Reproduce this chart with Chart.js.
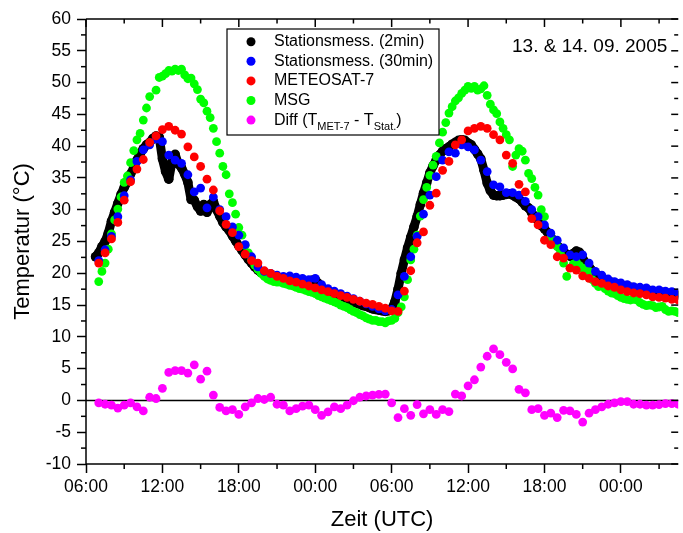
<!DOCTYPE html>
<html>
<head>
<meta charset="utf-8">
<script src="https://cdn.jsdelivr.net/npm/chart.js@4.4.1/dist/chart.umd.min.js"></script>
<style>
  html, body { margin: 0; padding: 0; background: #fff; }
  #wrap { width: 683px; height: 533px; }
</style>
</head>
<body>
<div id="wrap"><canvas id="myChart" width="683" height="533"></canvas></div>
<script>
// time axis is in hours counted from 13.09.2005 00:00 UTC
const xMajorTicks = [6, 12, 18, 24, 30, 36, 42, 48];
const xTickLabels = ['06:00', '12:00', '18:00', '00:00', '06:00', '12:00', '18:00', '00:00'];
const xMinorTicks = [9, 15, 21, 27, 33, 39, 45, 51];
const yMinorTicks = [-7.5, -2.5, 2.5, 7.5, 12.5, 17.5, 22.5, 27.5, 32.5, 37.5, 42.5, 47.5, 52.5, 57.5];

// station 2 min (shown every 15 min), starts 06:45
const station2Start = 6.75;
const station2 = [
    22.6, 23.2, 24.2, 25.0, 26.3, 28.2, 29.6, 31.0,
    32.4, 33.5, 34.4, 35.6, 36.6, 37.8, 38.8, 39.6,
    40.2, 40.6, 41.2, 41.6, 41.4, 38.0, 36.0, 34.8,
    37.5, 38.7, 37.2, 36.6, 35.6, 34.3, 31.6, 31.5,
    30.5, 29.8, 30.8, 29.6, 30.8, 31.3, 30.0, 29.0,
    28.0, 27.3, 26.7, 25.9, 25.1, 24.3, 23.6, 22.9,
    22.2, 21.6, 21.0, 20.5, 20.1, 19.8, 19.6, 19.4,
    19.3, 19.3, 19.2, 19.2, 19.1, 19.1, 19.0, 18.9,
    18.8, 18.7, 18.5, 18.5, 18.9, 19.0, 18.4, 17.8,
    17.4, 17.2, 16.9, 16.7, 16.5, 16.3, 16.1, 15.9,
    15.7, 15.5, 15.3, 15.1, 14.9, 14.8, 14.6, 14.4,
    14.3, 14.2, 14.1, 14.0, 14.1, 14.4, 15.5, 17.5,
    20.0, 22.1, 24.0, 25.7, 27.3, 28.9, 30.8, 32.6,
    34.2, 35.8, 36.9, 37.8, 38.6, 39.2, 39.6, 39.9,
    40.3, 40.6, 40.9, 41.0, 40.9, 40.5, 40.2, 39.5,
    38.8, 38.0, 36.2, 34.2, 33.0, 32.3, 32.2, 32.2,
    32.3, 32.4, 32.5, 32.3, 32.0, 31.7, 31.2, 30.6,
    30.3, 29.5, 28.9, 28.2, 27.5, 27.0, 26.4, 25.7,
    25.1, 24.4, 23.9, 23.4, 23.0, 22.7, 23.1, 23.5,
    23.3, 22.3, 21.6, 21.0, 20.4, 20.0, 19.6, 19.3,
    19.0, 18.8, 18.6, 18.4, 18.3, 18.2, 18.0, 17.9,
    17.8, 17.7, 17.6, 17.5, 17.4, 17.4, 17.3, 17.2,
    17.1, 17.0, 17.0, 16.9, 16.8, 16.8, 16.7, 16.6
];

// half-hourly series, start 07:00
const halfHourStart = 7.0;
const station30 = [
    22.0, 23.7, 25.8, 28.9, 32.2, 34.7, 37.6, 39.4, 40.2, 41.1,
    40.7, 38.6, 37.8, 37.3, 35.5, 32.8, 33.4, 30.3, 32.0, 30.0,
    28.9, 27.3, 26.0, 24.5, 22.6, 21.0, 20.3, 20.0, 19.7, 19.5,
    19.6, 19.4, 19.2, 19.0, 19.2, 18.2, 17.6, 17.2, 16.8, 16.4,
    16.0, 15.6, 15.2, 14.8, 14.4, 14.1, 14.3, 16.6, 19.5, 22.6,
    25.8, 29.3, 32.3, 35.2, 37.8, 39.1, 38.9, 40.2, 39.9, 39.4,
    37.8, 36.0, 33.9, 33.6, 32.7, 32.7, 32.3, 31.3, 30.0, 28.9,
    27.6, 26.3, 25.2, 24.0, 22.9, 22.6, 22.9, 21.6, 20.3, 19.7,
    19.1, 18.7, 18.5, 18.2, 17.9, 17.8, 17.7, 17.4, 17.4, 17.2,
    17.1, 16.9
];
const meteosat7 = [
    21.6, 23.2, 25.4, 28.0, 31.5, 34.4, 36.4, 37.9, 40.6, 41.6,
    42.6, 43.1, 42.5, 41.9, 39.9, 38.3, 36.8, 34.8, 33.1, 29.8,
    27.7, 26.4, 24.2, 23.0, 22.0, 21.6, 20.4, 20.0, 19.5, 19.2,
    18.8, 18.6, 18.3, 18.0, 17.7, 17.4, 17.1, 16.8, 16.5, 16.2,
    15.9, 15.6, 15.3, 15.1, 14.8, 14.5, 14.1, 14.0, 17.2, 20.4,
    24.8, 26.5, 30.7, 32.6, 36.2, 37.6, 40.2, 41.0, 42.4, 42.8,
    43.1, 42.8, 41.8, 41.0, 38.6, 37.3, 34.0, 32.8, 28.6, 27.6,
    25.2, 24.5, 22.6, 22.4, 20.8, 20.5, 19.6, 19.2, 18.7, 18.4,
    18.0, 17.8, 17.4, 17.1, 16.9, 16.8, 16.6, 16.3, 16.2, 16.1,
    15.9, 15.8
];
const diffMet7 = [
    -0.37, -0.6, -0.75, -1.2, -0.75, -0.37, -1.0, -1.65, 0.5, 0.3,
    1.9, 4.4, 4.7, 4.7, 4.3, 5.6, 3.35, 4.6, 0.85, -1.1,
    -1.65, -1.45, -2.2, -1.0, -0.37, 0.3, 0.15, 0.5, -0.6, -0.75,
    -1.65, -1.3, -0.9, -0.75, -1.45, -2.35, -1.8, -1.0, -1.3, -0.75,
    -0.05, 0.5, 0.7, 0.85, 0.95, 1.0, -0.37, -2.7, -1.3, -2.35,
    -0.65, -2.1, -1.45, -2.2, -1.45, -1.75, 1.0, 0.7, 2.3, 3.25,
    5.25, 6.95, 8.1, 7.2, 6.0, 4.95, 1.75, 1.2, -1.45, -1.3,
    -2.35, -2.0, -2.7, -1.55, -1.65, -2.2, -3.4, -2.0, -1.45, -1.0,
    -0.6, -0.37, -0.2, -0.2, -0.6, -0.6, -0.75, -0.75, -0.65, -0.5,
    -0.5, -0.6
];

// MSG, quarter-hourly, start 07:00 (null = no value)
const msgStart = 7.0;
const msg = [
    18.7, 20.3, 21.6, 23.8, 26.2, 28.4, 30.1, 32.0,
    34.3, 35.3, 37.4, 39.3, 41.0, 42.0, 44.1, 46.0,
    47.8, null, 48.8, 50.8, 51.0, 51.4, 51.9, 51.8,
    52.1, 51.9, 52.1, 51.2, 50.6, 50.7, 49.8, 48.9,
    47.4, 46.8, 45.5, 44.5, 42.8, 40.7, 38.9, 36.8,
    35.5, 32.5, 31.1, 29.3, 27.2, 26.0, 24.4, 23.2,
    22.1, 21.3, 20.6, 20.0, 19.5, 19.1, 18.9, 18.7,
    18.6, 18.6, 18.4, 18.3, 18.1, 18.0, 17.8, 17.6,
    17.5, 17.3, 17.1, 17.0, 16.8, 16.5, 16.3, 16.1,
    15.9, 15.7, 15.5, 15.3, 15.0, 14.8, 14.6, 14.3,
    14.0, 13.8, 13.5, 13.3, 13.0, 12.8, 12.6, 12.6,
    12.4, 12.4, 12.2, 12.5, 12.6, 12.9, 13.8, 14.7,
    16.3, 19.0, 22.1, 23.8, 26.0, 29.0, 31.6, 33.5,
    35.4, 37.0, 38.4, 40.5, 42.2, 43.7, 45.2, 46.2,
    47.1, 47.6, 48.3, 48.8, 49.4, 49.1, 49.4, 48.8,
    49.0, 49.5, 48.0, 46.6, 45.7, 45.1, 43.8, 42.8,
    41.8, 41.0, 36.8, 38.6, 39.6, 39.2, 37.8, 35.7,
    34.9, 33.5, 32.3, 30.0, 28.9, null, 25.5, 24.8,
    24.2, 23.1, 21.6, 19.5, null, 21.4, 21.8, 21.2,
    20.8, 20.5, 20.3, 19.0, 18.4, 17.9, 18.2, 17.6,
    17.2, 16.9, 16.8, 16.5, 16.2, 16.0, 15.9, 15.8,
    15.9, 15.8, 15.4, 15.1, 14.9, 15.0, 14.9, 14.6,
    14.7, 14.8, 14.3, 14.0, 14.1, 14.0, 13.8
];

const FONT = '"Liberation Sans", Arial, sans-serif';
Chart.defaults.font.family = FONT;
Chart.defaults.color = '#000';

function toPoints(start, step, vals) {
    const pts = [];
    vals.forEach(function (v, i) {
        if (v !== null) pts.push({ x: start + i * step, y: v });
    });
    return pts;
}

function dotSet(label, data, color, order) {
    return {
        label: label,
        data: data,
        showLine: false,
        pointRadius: 4.4,
        pointBorderWidth: 0,
        pointBackgroundColor: color,
        backgroundColor: color,
        borderColor: color,
        order: order
    };
}

const stationLine = dotSet('Stationsmess. (2min)', toPoints(station2Start, 0.25, station2), '#000000', 4);
stationLine.showLine = true;
stationLine.borderWidth = 9;
stationLine.pointRadius = 4.8;
stationLine.borderJoinStyle = 'round';
stationLine.borderCapStyle = 'round';

const datasets = [
    stationLine,
    dotSet('Stationsmess. (30min)', toPoints(halfHourStart, 0.5, station30), '#0000ff', 2),
    dotSet('METEOSAT-7', toPoints(halfHourStart, 0.5, meteosat7), '#ff0000', 1),
    dotSet('MSG', toPoints(msgStart, 0.25, msg), '#00ff00', 3),
    dotSet('Diff (TMET-7 - TStat.)', toPoints(halfHourStart, 0.5, diffMet7), '#ff00ff', 0)
];
// legend text pieces, second value = subscript
const diffLegendParts = [['Diff (T', 0], ['MET-7', 1], [' - T', 0], ['Stat.', 1], [')', 0]];

function line(ctx, x1, y1, x2, y2) {
    ctx.beginPath();
    ctx.moveTo(x1, y1);
    ctx.lineTo(x2, y2);
    ctx.stroke();
}

const decor = {
    id: 'decor',
    beforeDatasetsDraw(chart) {
        const ctx = chart.ctx, a = chart.chartArea, ys = chart.scales.y;
        ctx.save();
        ctx.strokeStyle = '#000';
        ctx.lineWidth = 1.5;
        const y0 = ys.getPixelForValue(0);
        line(ctx, a.left, y0, a.right, y0);
        ctx.restore();
    },
    afterDatasetsDraw(chart) {
        const ctx = chart.ctx, a = chart.chartArea;
        const xs = chart.scales.x, ys = chart.scales.y;
        ctx.save();
        ctx.strokeStyle = '#000';
        ctx.lineWidth = 1.5;
        // frame
        line(ctx, a.left, a.top, a.right, a.top);
        line(ctx, a.left, a.top, a.left, a.bottom);
        line(ctx, a.left, a.bottom, a.right, a.bottom);
        // top + bottom ticks
        xMajorTicks.forEach(function (h) {
            const px = xs.getPixelForValue(h);
            line(ctx, px, a.top, px, a.top + 8);
        });
        xMinorTicks.forEach(function (h) {
            const px = xs.getPixelForValue(h);
            line(ctx, px, a.bottom, px, a.bottom + 5);
            line(ctx, px, a.top, px, a.top + 4.5);
        });
        // left minor + right ticks
        ys.ticks.forEach(function (t) {
            const py = ys.getPixelForValue(t.value);
            line(ctx, a.right - 7, py, a.right, py);
        });
        yMinorTicks.forEach(function (v) {
            const py = ys.getPixelForValue(v);
            line(ctx, a.left - 5, py, a.left, py);
            line(ctx, a.right - 4, py, a.right, py);
        });

        // legend box
        const bx = 227, by = 29, bw = 212, bh = 106;
        ctx.fillStyle = '#fff';
        ctx.fillRect(bx, by, bw, bh);
        ctx.lineWidth = 1.2;
        ctx.strokeRect(bx, by, bw, bh);
        ctx.textBaseline = 'middle';
        ctx.textAlign = 'left';
        chart.data.datasets.forEach(function (ds, i) {
            const ry = 41.7 + i * 19.6;
            ctx.fillStyle = ds.pointBackgroundColor;
            ctx.beginPath();
            ctx.arc(251, ry, 4.5, 0, Math.PI * 2);
            ctx.fill();
            ctx.fillStyle = '#000';
            if (i === 4) {
                let tx = 274;
                diffLegendParts.forEach(function (p) {
                    ctx.font = (p[1] ? '11px ' : '16px ') + FONT;
                    ctx.fillText(p[0], tx, p[1] ? ry + 7 : ry);
                    tx += ctx.measureText(p[0]).width;
                });
            } else {
                ctx.font = '16px ' + FONT;
                ctx.fillText(ds.label, 274, ry);
            }
        });

        // date note
        ctx.font = '19px ' + FONT;
        ctx.textBaseline = 'alphabetic';
        ctx.fillText('13. & 14. 09. 2005', 512, 51.5);
        ctx.restore();
    }
};

new Chart('myChart', {
    type: 'scatter',
    data: { datasets: datasets },
    options: {
        responsive: false,
        animation: false,
        devicePixelRatio: 1,
        events: [],
        layout: { padding: { top: 19, right: 0, left: 0, bottom: 0 } },
        plugins: {
            legend: { display: false },
            tooltip: { enabled: false }
        },
        scales: {
            x: {
                type: 'linear',
                position: 'bottom',
                min: 6,
                max: 52.5,
                afterBuildTicks: function (s) {
                    s.ticks = xMajorTicks.map(function (v) { return { value: v }; });
                },
                afterFit: function (s) { s.height = 69; },
                ticks: {
                    callback: function (v) { return xTickLabels[xMajorTicks.indexOf(v)]; },
                    font: { size: 17.5 },
                    color: '#000',
                    padding: 4,
                    maxRotation: 0,
                    autoSkip: false
                },
                grid: { drawOnChartArea: false, tickLength: 9, tickColor: '#000', tickWidth: 1.5 },
                border: { display: false },
                title: { display: true, text: 'Zeit (UTC)', font: { size: 22 }, color: '#000', padding: 0 }
            },
            y: {
                min: -10,
                max: 60,
                afterFit: function (s) { s.width = 86; },
                ticks: { stepSize: 5, font: { size: 17.5 }, color: '#000', padding: 6 },
                grid: { drawOnChartArea: false, tickLength: 9, tickColor: '#000', tickWidth: 1.5 },
                border: { display: false },
                title: { display: true, text: 'Temperatur (°C)', font: { size: 22 }, color: '#000', padding: { top: 10, bottom: 0 } }
            }
        }
    },
    plugins: [decor]
});
</script>
</body>
</html>
